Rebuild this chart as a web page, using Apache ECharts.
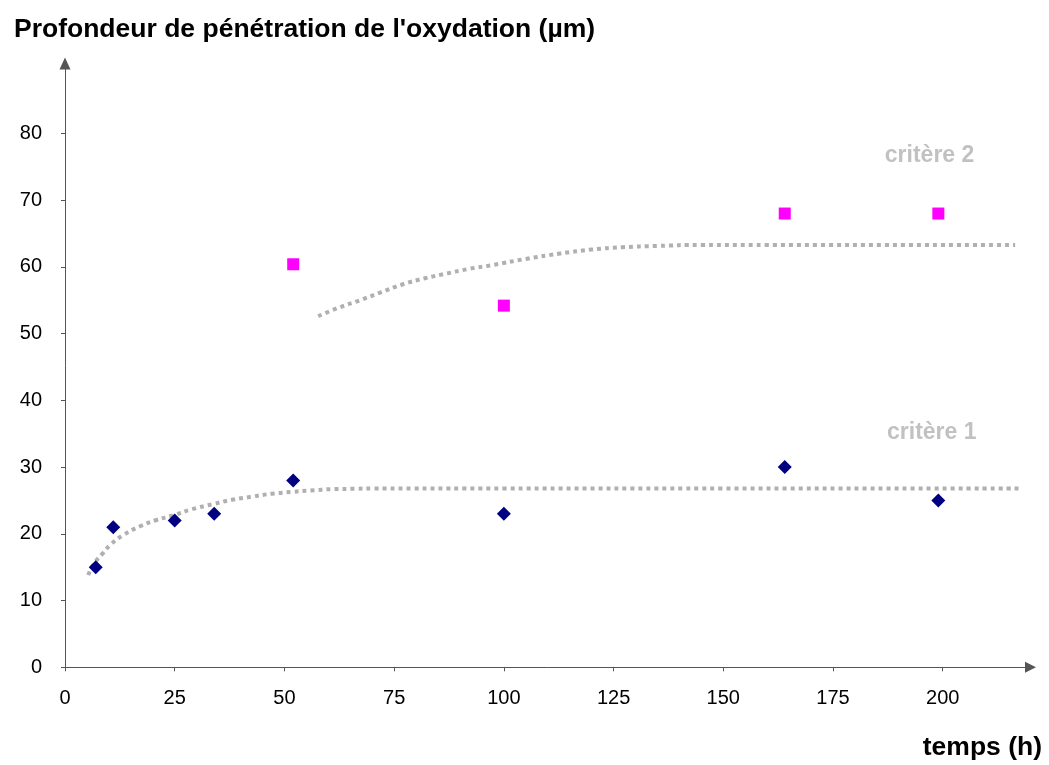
<!DOCTYPE html>
<html>
<head>
<meta charset="utf-8">
<script src="https://cdn.jsdelivr.net/npm/echarts@6/dist/echarts.min.js"></script>
<style>
html,body{margin:0;padding:0;background:#fff;}
#chart{width:1049px;height:765px;}
</style>
</head>
<body>
<div id="chart"></div>
<script>
// ---- data ----
const titleText = "Profondeur de pénétration de l'oxydation (µm)";
const xName = "temps (h)";
const xTicks = [0, 25, 50, 75, 100, 125, 150, 175, 200];
const yTicks = [0, 10, 20, 30, 40, 50, 60, 70, 80];

const crit1X = [7, 11, 25, 34, 52, 100, 164, 199];
const crit1Y = [15, 21, 22, 23, 28, 23, 30, 25];

const crit2X = [52, 100, 164, 199];
const crit2Y = [60.4, 54.2, 68, 68];

// trend curves
const trend1X = [5.3, 6.4, 8.5, 10.6, 13.5, 17, 20.5, 24.8, 29, 34, 38, 42.9, 47, 52, 56, 61, 66, 70, 100, 150, 218];
const trend1Y = [13.8, 15.3, 17.0, 18.5, 19.9, 21.1, 22.0, 22.8, 23.7, 24.5, 25.1, 25.6, 26.0, 26.3, 26.5, 26.7, 26.75, 26.8, 26.8, 26.8, 26.8];

const trend2X = [57.7, 62, 67.2, 72, 77, 82, 86.9, 92, 97.6, 105, 112.8, 120, 127, 135, 145, 160, 216.5];
const trend2Y = [52.6, 53.8, 55.0, 56.2, 57.4, 58.3, 59.0, 59.7, 60.3, 61.2, 62.0, 62.6, 62.95, 63.15, 63.3, 63.3, 63.3];

const labelNames = ["critère 1", "critère 2"];
const labelX = [197.5, 197];
const labelY = [35.1, 76.6];

// ---- chart ----
const zip = (xs, ys) => xs.map((x, i) => [x, ys[i]]);
const chart = echarts.init(document.getElementById('chart'));
const font = "'Liberation Sans', Arial, sans-serif";
const axisCol = '#555';

chart.setOption({
  animation: false,
  backgroundColor: '#fff',
  textStyle: { fontFamily: font },
  title: {
    text: titleText,
    left: 9, top: 11,
    textStyle: { fontFamily: font, fontSize: 26.5, fontWeight: 'bold', color: '#000' }
  },
  graphic: [{
    type: 'text', right: 7, top: 734,
    style: { text: xName, font: "bold 26.5px 'Liberation Sans', Arial, sans-serif", fill: '#000' }
  }],
  grid: { left: 65, right: 18.5, top: 63.4, bottom: 97.7, containLabel: false },
  xAxis: {
    type: 'value', min: 0, max: 220,
    splitLine: { show: false },
    axisLine: { show: true, lineStyle: { color: axisCol, width: 1 }, symbol: ['none', 'triangle'], symbolSize: [11, 11] },
    axisTick: { show: true, length: 4, inside: false, customValues: xTicks, lineStyle: { color: axisCol } },
    axisLabel: { customValues: xTicks, margin: 21, fontSize: 20, color: '#000', fontFamily: font }
  },
  yAxis: {
    type: 'value', min: 0, max: 90.5,
    splitLine: { show: false },
    axisLine: { show: true, lineStyle: { color: axisCol, width: 1 }, symbol: ['none', 'triangle'], symbolSize: [11, 12] },
    axisTick: { show: true, length: 4, inside: false, customValues: yTicks, lineStyle: { color: axisCol } },
    axisLabel: { customValues: yTicks, margin: 23, fontSize: 20, color: '#000', fontFamily: font }
  },
  series: [
    {
      type: 'line', data: zip(trend1X, trend1Y), smooth: true, showSymbol: false, symbol: 'none',
      lineStyle: { color: '#b0b0b0', width: 4, type: [4, 4], cap: 'butt' }, z: 1, silent: true
    },
    {
      type: 'line', data: zip(trend2X, trend2Y), smooth: true, showSymbol: false, symbol: 'none',
      lineStyle: { color: '#b0b0b0', width: 4, type: [4, 4], cap: 'butt' }, z: 1, silent: true
    },
    {
      type: 'scatter', data: zip(crit1X, crit1Y), symbol: 'diamond', symbolSize: 14,
      itemStyle: { color: '#000080', opacity: 1 }, z: 3
    },
    {
      type: 'scatter', data: zip(crit2X, crit2Y), symbol: 'rect', symbolSize: 12,
      itemStyle: { color: '#ff00ff', opacity: 1 }, z: 3
    },
    {
      type: 'scatter', symbolSize: 0,
      data: labelNames.map((n, i) => ({ name: n, value: [labelX[i], labelY[i]] })),
      label: { show: true, position: 'inside', formatter: p => p.name, fontFamily: font, fontSize: 23, fontWeight: 'bold', color: '#b2b2b2' },
      silent: true
    }
  ]
});
</script>
</body>
</html>
